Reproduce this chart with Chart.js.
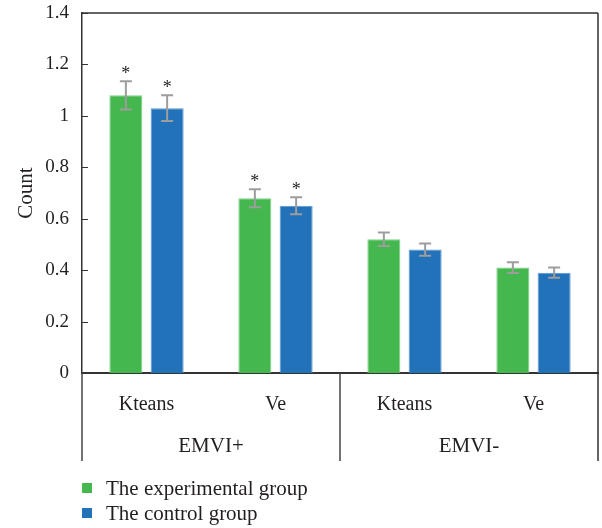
<!DOCTYPE html>
<html>
<head>
<meta charset="utf-8">
<script src="https://cdn.jsdelivr.net/npm/chart.js@4.4.0/dist/chart.umd.min.js"></script>
<style>
  body { margin: 0; background: #fff; }
  #wrap { width: 602px; height: 528px; }
</style>
</head>
<body>
<div id="wrap"><canvas id="chart1" width="602" height="528"></canvas></div>
<script>
const categories = ['Kteans', 'Ve', 'Kteans', 'Ve'];
const groupLabels = ['EMVI+', 'EMVI-'];
const experimental = [1.08, 0.68, 0.52, 0.41];
const control = [1.03, 0.65, 0.48, 0.39];
const experimentalErr = [0.055, 0.035, 0.026, 0.021];
const controlErr = [0.05, 0.033, 0.024, 0.02];
const experimentalStar = [true, true, false, false];
const controlStar = [true, true, false, false];
const yTicks = [0, 0.2, 0.4, 0.6, 0.8, 1, 1.2, 1.4];

const FONT = "'Liberation Serif', 'DejaVu Serif', serif";
const INK = '#231f20';

const extrasPlugin = {
  id: 'extras',
  afterDatasetsDraw(chart) {
    const ctx = chart.ctx;
    const yScale = chart.scales.y;
    const xScale = chart.scales.x;
    const area = chart.chartArea;
    const errs = [experimentalErr, controlErr];
    const stars = [experimentalStar, controlStar];

    ctx.save();
    // error bars and stars
    chart.data.datasets.forEach((ds, di) => {
      const meta = chart.getDatasetMeta(di);
      meta.data.forEach((bar, i) => {
        const v = ds.data[i];
        const e = errs[di][i];
        const yTop = yScale.getPixelForValue(v + e);
        const yBot = yScale.getPixelForValue(v - e);
        ctx.strokeStyle = '#9d9d9d';
        ctx.lineWidth = 2;
        ctx.beginPath();
        ctx.moveTo(bar.x, yTop); ctx.lineTo(bar.x, yBot);
        ctx.moveTo(bar.x - 6, yTop); ctx.lineTo(bar.x + 6, yTop);
        ctx.moveTo(bar.x - 6, yBot); ctx.lineTo(bar.x + 6, yBot);
        ctx.stroke();
        if (stars[di][i]) {
          ctx.fillStyle = INK;
          ctx.font = '18px ' + FONT;
          ctx.textAlign = 'center';
          ctx.textBaseline = 'middle';
          ctx.fillText('*', bar.x, yTop - 7);
        }
      });
    });

    // frame: top and right
    ctx.strokeStyle = '#333';
    ctx.lineWidth = 1.5;
    ctx.beginPath();
    ctx.moveTo(area.left, area.top); ctx.lineTo(area.right, area.top);
    ctx.moveTo(area.right, area.top); ctx.lineTo(area.right, area.bottom + 88);
    ctx.stroke();

    // inward y ticks
    ctx.lineWidth = 1;
    ctx.beginPath();
    yTicks.forEach(t => {
      const py = Math.round(yScale.getPixelForValue(t)) + 0.5;
      ctx.moveTo(area.left, py); ctx.lineTo(area.left + 6, py);
    });
    ctx.stroke();

    // group separators below axis
    const mid = (xScale.getPixelForValue(1) + xScale.getPixelForValue(2)) / 2;
    ctx.strokeStyle = '#444';
    ctx.lineWidth = 1.5;
    ctx.beginPath();
    [area.left, mid].forEach(px => {
      ctx.moveTo(px, area.bottom); ctx.lineTo(px, area.bottom + 88);
    });
    ctx.stroke();

    // group labels
    ctx.fillStyle = INK;
    ctx.font = '21px ' + FONT;
    ctx.textAlign = 'center';
    ctx.textBaseline = 'middle';
    ctx.fillText(groupLabels[0], (area.left + mid) / 2, area.bottom + 73);
    ctx.fillText(groupLabels[1], (mid + area.right) / 2, area.bottom + 73);

    // legend
    ctx.textAlign = 'left';
    chart.data.datasets.forEach((ds, di) => {
      const cy = 488 + di * 25;
      ctx.fillStyle = ds.backgroundColor;
      ctx.fillRect(82, cy - 5, 10, 10);
      ctx.fillStyle = INK;
      ctx.fillText(ds.label, 106, cy + 1);
    });
    ctx.restore();
  }
};

new Chart(document.getElementById('chart1'), {
  type: 'bar',
  data: {
    labels: categories,
    datasets: [{
      label: 'The experimental group',
      data: experimental,
      backgroundColor: '#44b74f',
      borderColor: '#7fd087',
      borderWidth: { left: 1, right: 1, top: 1, bottom: 0 },
      categoryPercentage: 0.64,
      barPercentage: 0.8
    }, {
      label: 'The control group',
      data: control,
      backgroundColor: '#2272ba',
      borderColor: '#5c98d0',
      borderWidth: { left: 1, right: 1, top: 1, bottom: 0 },
      categoryPercentage: 0.64,
      barPercentage: 0.8
    }]
  },
  options: {
    responsive: false,
    animation: false,
    layout: { padding: { top: 13, right: 4, left: 0, bottom: 0 } },
    plugins: {
      legend: { display: false },
      tooltip: { enabled: false }
    },
    scales: {
      x: {
        grid: { display: false, drawTicks: false },
        border: { display: true, color: '#333', width: 2 },
        ticks: { color: INK, font: { family: FONT, size: 20 }, padding: 20 },
        afterFit(scale) { scale.height = 155; }
      },
      y: {
        min: 0,
        max: 1.4,
        afterBuildTicks(scale) { scale.ticks = yTicks.map(v => ({ value: v })); },
        grid: { display: false, drawTicks: false },
        border: { display: true, color: '#333', width: 1.5 },
        ticks: {
          color: INK,
          font: { family: FONT, size: 19 },
          padding: 13,
          callback: v => String(+Number(v).toFixed(1))
        },
        title: {
          display: true,
          text: 'Count',
          color: INK,
          font: { family: FONT, size: 21 },
          padding: { top: 14, bottom: 0 }
        },
        afterFit(scale) {
          scale.width = 82;
          scale.paddingTop = 0;
          scale.paddingBottom = 0;
        }
      }
    }
  },
  plugins: [extrasPlugin]
});
</script>
</body>
</html>
